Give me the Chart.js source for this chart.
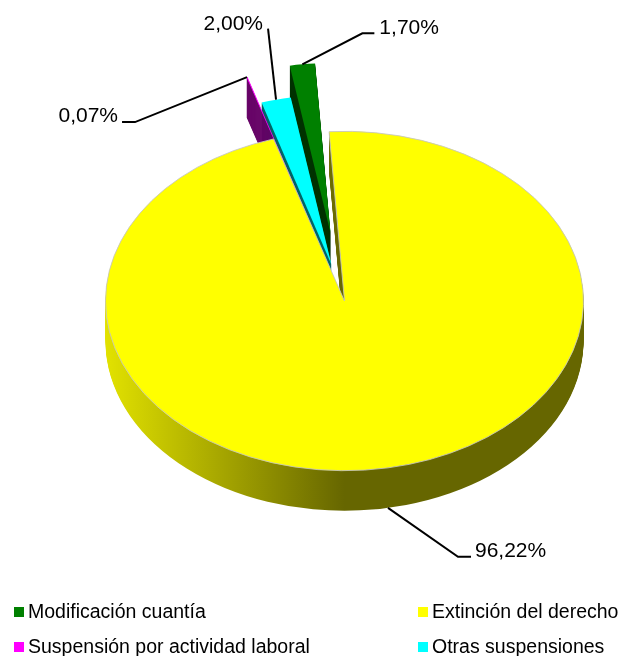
<!DOCTYPE html>
<html lang="es">
<head>
<meta charset="utf-8">
<title>Pie 3D</title>
<script src="https://cdn.jsdelivr.net/npm/chart.js@4"></script>
<style>
  html, body { margin: 0; padding: 0; background: #fff; }
  #wrap { position: relative; width: 621px; height: 656px; overflow: hidden; }
  #pie-chart { position: absolute; left: 0; top: 0; }
  .key { position: absolute; font: 19.5px "Liberation Sans", Arial, sans-serif; color: #000; line-height: 22px; white-space: nowrap; }
  .key i { position: absolute; left: -14px; top: 7px; width: 10px; height: 10px; }
</style>
</head>
<body>
<div id="wrap">
  <canvas id="pie-chart" width="621" height="656"></canvas>
</div>
<script>
var categories = ["Extinción del derecho", "Suspensión por actividad laboral", "Otras suspensiones", "Modificación cuantía"];
var inputData = [96.22, 0.07, 2.00, 1.70];
var valueLabels = ["96,22%", "0,07%", "2,00%", "1,70%"];
var background = ["#ffff00", "#ff00ff", "#00ffff", "#008000"];
var wallColors = ["#666600", "#660066", "#006666", "#003300"];
var pullX = [0, -27, -13, -14];       // how far each slice is pulled out
var pullY = [0, -87, -51, -96];
var borders = [1, 0, 0, 0];

var squash = 0.71;    // vertical tilt of the pie
var depth = 40;       // height of the side wall

// leader lines, relative to the middle of the slice's outer edge
var leaders = [
  { elbow: [70, 49], end: [83, 49], text: [87, 49], align: "left" },
  { elbow: [-112, 45], end: [-125, 45], text: [-129, 45], align: "right" },
  { elbow: [-8, -71], end: [-8, -71], text: [-13, -70], align: "right" },
  { elbow: [60, -31], end: [72, -31], text: [77, -30], align: "left" }
];

// legend order and place
var legendOrder = [3, 0, 1, 2];
var legendLeft = [28, 432];
var legendTop = [600, 635];

function tilt(ctx, arc) {
  ctx.translate(0, arc.y);
  ctx.scale(1, squash);
  ctx.translate(0, -arc.y);
}

function midAngle(arc) {
  return (arc.startAngle + arc.endAngle) / 2;
}

var pie3d = {
  id: "pie3d",
  beforeDatasetsDraw: function (chart) {
    var ctx = chart.ctx;
    var arcs = chart.getDatasetMeta(0).data;
    // back to front: last slice first, the big yellow one on top
    for (var i = arcs.length - 1; i >= 0; i--) {
      var arc = arcs[i];
      ctx.save();
      tilt(ctx, arc);
      ctx.translate(pullX[i], pullY[i]);

      var wall = wallColors[i];
      if (i === 0) {
        wall = ctx.createLinearGradient(arc.x - arc.outerRadius, 0, arc.x + arc.outerRadius, 0);
        wall.addColorStop(0, "#e2e200");
        wall.addColorStop(0.5, wallColors[0]);
        wall.addColorStop(1, wallColors[0]);
      }
      ctx.fillStyle = wall;
      for (var d = depth; d > 0; d--) {
        ctx.beginPath();
        ctx.moveTo(arc.x, arc.y + d / squash);
        ctx.arc(arc.x, arc.y + d / squash, arc.outerRadius, arc.startAngle, arc.endAngle);
        ctx.closePath();
        ctx.fill();
      }
      arc.draw(ctx);
      ctx.restore();
    }
    return false;
  },
  afterDraw: function (chart) {
    var ctx = chart.ctx;
    var arcs = chart.getDatasetMeta(0).data;
    ctx.save();
    ctx.strokeStyle = "#000";
    ctx.lineWidth = 2;
    ctx.fillStyle = "#000";
    ctx.font = '21px "Liberation Sans", Arial, sans-serif';
    ctx.textBaseline = "alphabetic";
    arcs.forEach(function (arc, i) {
      var mid = midAngle(arc);
      var x = arc.x + Math.cos(mid) * arc.outerRadius + pullX[i];
      var y = arc.y + (Math.sin(mid) * arc.outerRadius + pullY[i]) * squash + (i === 0 ? depth : 0);
      var l = leaders[i];
      ctx.beginPath();
      ctx.moveTo(x, y);
      ctx.lineTo(x + l.elbow[0], y + l.elbow[1]);
      ctx.lineTo(x + l.end[0], y + l.end[1]);
      ctx.stroke();
      ctx.textAlign = l.align;
      ctx.fillText(valueLabels[i], x + l.text[0], y + l.text[1]);
    });
    ctx.restore();
  }
};

var config = {
  type: "pie",
  data: {
    labels: categories,
    datasets: [{
      data: inputData,
      backgroundColor: background,
      borderColor: "#c4c4c4",
      borderWidth: borders
    }]
  },
  options: {
    responsive: false,
    animation: false,
    rotation: -3.7,
    layout: { padding: { left: 105, right: 37, top: 61, bottom: 115 } },
    plugins: {
      legend: { display: false },
      tooltip: { enabled: false }
    }
  },
  plugins: [pie3d]
};

var pieChart = new Chart(document.getElementById("pie-chart"), config);

// legend as two columns under the pie
var wrap = document.getElementById("wrap");
legendOrder.forEach(function (idx, n) {
  var key = document.createElement("div");
  key.className = "key";
  key.style.left = legendLeft[n % 2] + "px";
  key.style.top = legendTop[Math.floor(n / 2)] + "px";
  key.textContent = categories[idx];
  var swatch = document.createElement("i");
  swatch.style.background = background[idx];
  key.appendChild(swatch);
  wrap.appendChild(key);
});
</script>
</body>
</html>
